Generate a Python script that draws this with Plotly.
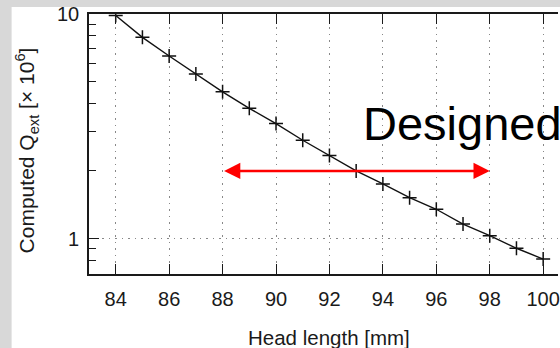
import numpy as np
import plotly.graph_objects as go

# ---- data ----
head_length = [84, 85, 86, 87, 88, 89, 90, 91, 92, 93, 94, 95, 96, 97, 98, 99, 100]
q_ext = [9.85, 7.87, 6.50, 5.41, 4.50, 3.80, 3.25, 2.74, 2.34, 2.00,
         1.75, 1.52, 1.35, 1.16, 1.03, 0.905, 0.81]
x_ticks = [84, 86, 88, 90, 92, 94, 96, 98, 100]
y_major = [1, 10]
y_minor = [0.7, 0.8, 0.9, 2, 3, 4, 5, 6, 7, 8, 9]
arrow_x = [88, 98]
arrow_y = 2.0

FONT = "Liberation Sans"
TXT = "#1a1a1a"
AX = "#1a1a1a"

fig = go.Figure()
fig.add_trace(go.Scatter(
    x=head_length, y=q_ext, mode="lines+markers",
    line=dict(color="#111111", width=1.4),
    marker=dict(symbol="cross-thin", size=10, line=dict(color="#111111", width=1.5)),
    showlegend=False, hoverinfo="skip",
))

fig.update_layout(
    width=560, height=348,
    margin=dict(l=89, r=0, t=14, b=74),
    paper_bgcolor="#d8d8d8",
    plot_bgcolor="white",
    font=dict(family=FONT, color=TXT, size=20),
    xaxis=dict(
        range=[83, 100.555], tickvals=x_ticks, ticks="inside", ticklen=10,
        tickwidth=1.3, tickcolor=AX, showline=True, linecolor=AX, linewidth=1.6,
        mirror="ticks", showgrid=True, gridcolor="#888888", gridwidth=1,
        griddash="1.5px,5px", zeroline=False, ticklabelstandoff=6,
        ticklabeloverflow="allow",
        tickfont=dict(size=20, family=FONT, color=TXT),
    ),
    yaxis=dict(
        type="log", range=[np.log10(0.695), 1], tickvals=y_major,
        ticktext=["1", "10"], ticks="inside", ticklen=10, tickwidth=1.3,
        tickcolor=AX, showline=True, linecolor=AX, linewidth=1.6,
        showgrid=True, gridcolor="#888888", gridwidth=1, griddash="1.5px,5px",
        zeroline=False, ticklabelstandoff=4,
        tickfont=dict(size=20, family=FONT, color=TXT),
        minor=dict(tickvals=y_minor, ticks="inside", ticklen=7, tickwidth=1.3,
                   tickcolor=AX, showgrid=False),
    ),
    shapes=[dict(type="rect", xref="paper", yref="paper",
                 x0=-0.165, x1=1.02, y0=-0.3, y1=1.027,
                 fillcolor="white", line=dict(width=0), layer="below")],
)

# red double arrow (annotation coordinates on a log axis are in log10 units)
fig.add_annotation(
    x=arrow_x[1], y=np.log10(arrow_y), ax=arrow_x[0], ay=np.log10(arrow_y),
    xref="x", yref="y", axref="x", ayref="y", text="", showarrow=True,
    arrowhead=2, startarrowhead=2, arrowside="end+start",
    arrowsize=1.3, startarrowsize=1.3, arrowwidth=2.5, arrowcolor="#ff0000",
    standoff=0, startstandoff=0,
)

# "Designed" text
fig.add_annotation(
    x=93.2, y=0.578, xref="x", yref="paper", text="Designed",
    showarrow=False, xanchor="left", yanchor="middle",
    font=dict(family=FONT, size=47, color="#000000"), borderpad=0,
)

# axis titles
fig.add_annotation(
    x=92, y=-0.244, xref="x", yref="paper", text="Head length [mm]",
    showarrow=False, xanchor="center", yanchor="middle",
    font=dict(family=FONT, size=20.5, color=TXT),
)
fig.add_annotation(
    x=-0.1324, y=0.475, xref="paper", yref="paper",
    text="Computed Q<sub>ext</sub> [× 10<sup>6</sup>]",
    showarrow=False, xanchor="center", yanchor="middle", textangle=-90,
    font=dict(family=FONT, size=21, color=TXT),
)

fig.write_html(
    "out.html",
    config={"displayModeBar": False},
    post_script="document.body.style.margin='0';document.body.style.overflow='hidden';",
)
